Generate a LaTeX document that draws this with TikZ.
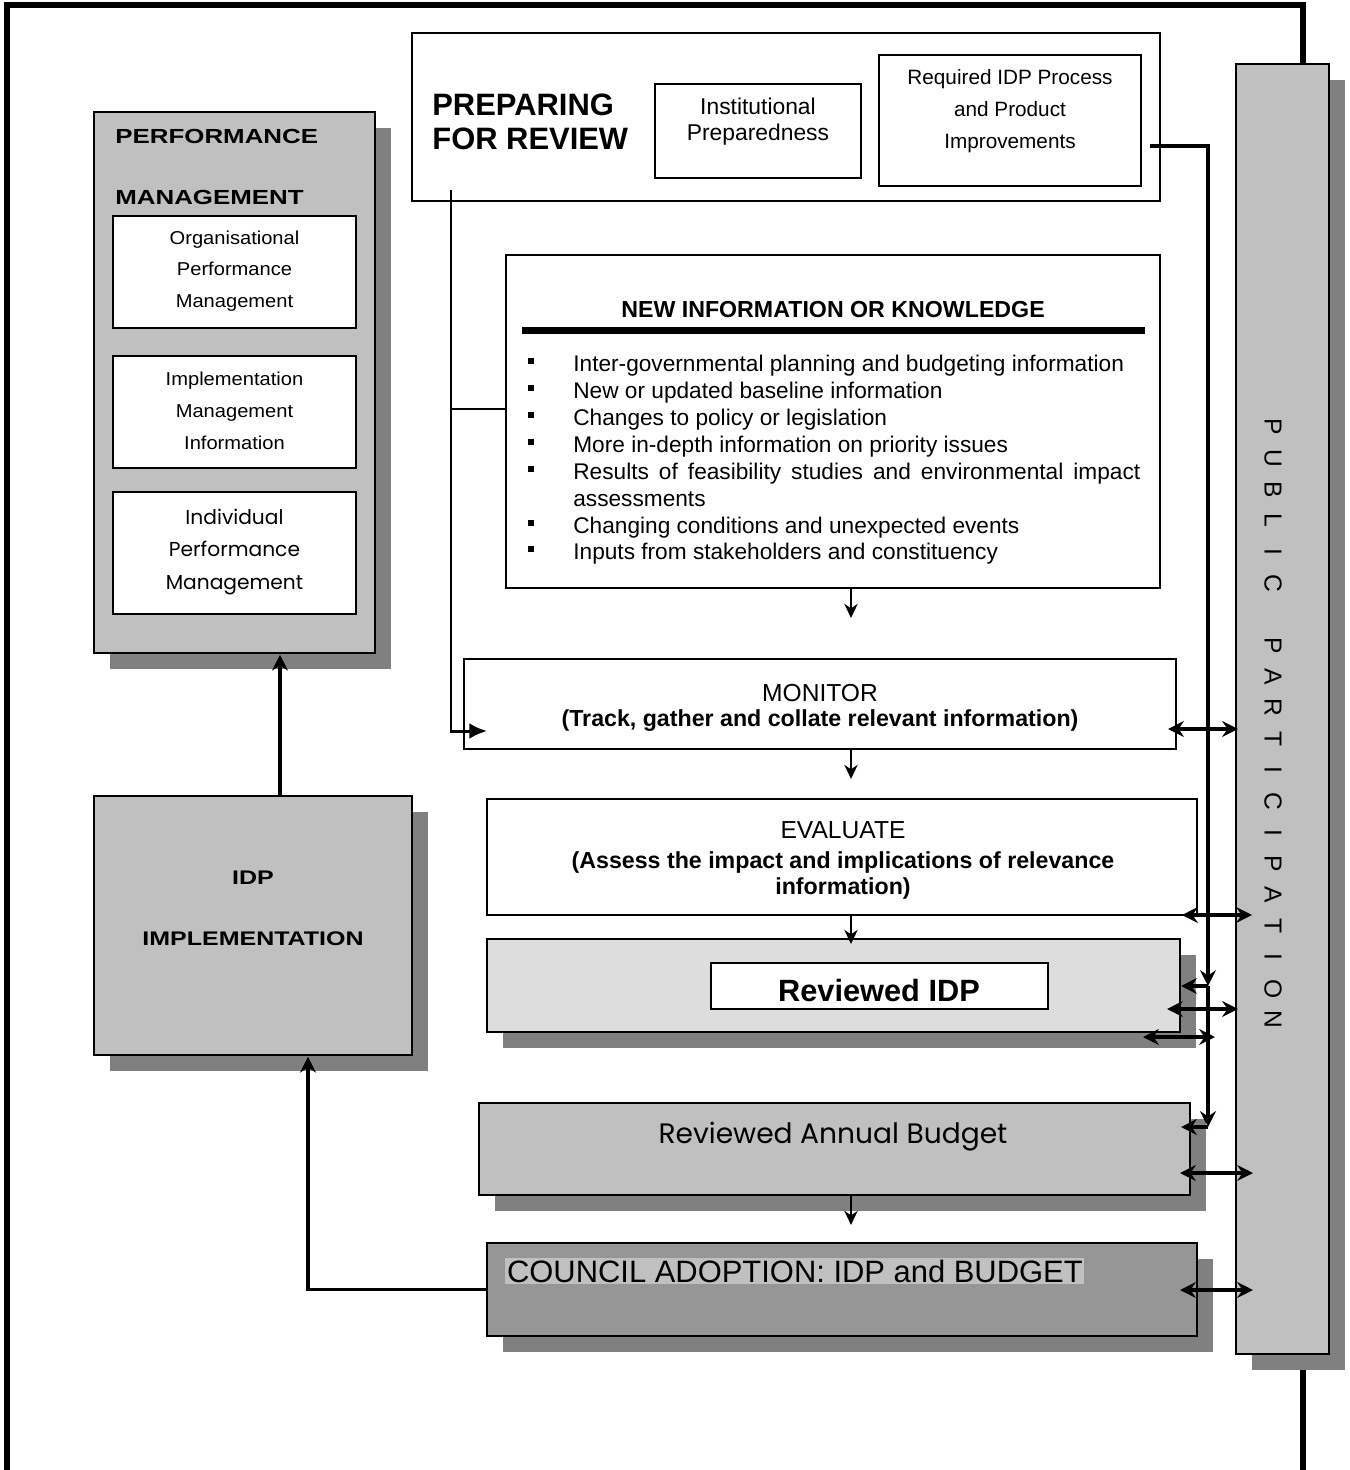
\documentclass[tikz,border=0pt]{standalone}
\usepackage{fontspec}
\setmainfont{Liberation Sans}
\newfontfamily\widef[FakeStretch=1.27]{Liberation Sans}
\newfontfamily\widereg[FakeStretch=1.08]{Liberation Sans}
\newfontfamily\comic{Poppins}
\usetikzlibrary{arrows.meta,shadows,calc}
\definecolor{boxgray}{HTML}{C0C0C0}
\definecolor{lightbox}{HTML}{DDDDDD}
\definecolor{darkbox}{HTML}{969696}
\definecolor{shadowgray}{HTML}{808080}
\tikzset{
  box/.style={draw=black, line width=1pt, inner sep=0pt, outer sep=0pt, anchor=north west},
  shad/.style={line width=1.3pt, drop shadow={shadow xshift=0.32cm, shadow yshift=-0.32cm, fill=shadowgray, opacity=1}},
  conn/.style={line width=2.2pt},
  thinconn/.style={line width=1.6pt},
  tipS/.tip={Stealth[length=9pt,width=9pt,inset=3pt]},
  tipT/.tip={Stealth[length=8pt,width=7.5pt,inset=2.5pt]},
  arr/.style={conn, -tipS},
  sarr/.style={thinconn, -tipT},
  darr/.style={conn, tipS-tipS},
  larr/.style={line width=1.7pt, -{Latex[length=10pt,width=9pt]}},
  txt/.style={inner sep=0pt, align=center},
}
\newcommand\boxat[6]{\node[box,#6,minimum width={(#4-#2)*0.02cm},minimum height={(#5-#3)*0.02cm}] (#1) at (#2,#3) {};}
\begin{document}
\begin{tikzpicture}[x=0.02cm,y=-0.02cm]
\useasboundingbox[fill=white] (0,0) rectangle (1349,1470);

% outer frame
\draw[line width=3.2pt] (7,1480) -- (7,5) -- (1303,5) -- (1303,80);
\draw[line width=3.2pt] (1303,1360) -- (1303,1480);

% Public participation
\boxat{pp}{1236}{64}{1329}{1354}{fill=boxgray,shad}
\foreach \l [count=\i from 0] in {P,U,B,L,I,C,{},P,A,R,T,I,C,I,P,A,T,I,O,N}
  \node[rotate=-90, inner sep=0pt, font=\fontsize{14}{16}\selectfont] at (1273,427+\i*31.2) {\l};

% Performance management
\boxat{pm}{94}{112}{375}{653}{fill=boxgray,shad}
\node[txt, anchor=west, font=\widef\bfseries\fontsize{11.6}{14}\selectfont] (pmt1) at (115,136) {PERFORMANCE};
\node[txt, anchor=west, font=\widef\bfseries\fontsize{11.6}{14}\selectfont] (pmt2) at (115,197) {MANAGEMENT};
\boxat{org}{113}{216}{356}{328}{fill=white}
\node[txt, font=\widereg\fontsize{10.6}{18.1}\selectfont] (orgt) at (234.5,271) {Organisational\\Performance\\Management};
\boxat{imi}{113}{356}{356}{468}{fill=white}
\node[txt, font=\widereg\fontsize{10.6}{18.1}\selectfont] (imit) at (234.5,411) {Implementation\\Management\\Information};
\boxat{ipm}{113}{492}{356}{614}{fill=white}
\node[txt, font=\comic\fontsize{11.5}{18.4}\selectfont] (ipmt) at (234.5,552) {Individual\\Performance\\Management};

% IDP implementation
\boxat{impl}{94}{796}{412}{1055}{fill=boxgray,shad}
\node[txt, font=\widef\bfseries\fontsize{11.2}{14}\selectfont] (implt1) at (253,878) {IDP};
\node[txt, font=\widef\bfseries\fontsize{11.2}{14}\selectfont] (implt2) at (253,939) {IMPLEMENTATION};

% Preparing for review
\boxat{prep}{412}{33}{1160}{201}{fill=white}
\node[txt, anchor=west, align=left, font=\bfseries\fontsize{17.6}{19.3}\selectfont] (prept) at (432,122) {PREPARING\\FOR REVIEW};
\boxat{inst}{655}{84}{861}{178}{fill=white}
\node[txt, font=\fontsize{13}{14.7}\selectfont] (instt) at (758,122) {Institutional\\Preparedness};
\boxat{req}{879}{55}{1141}{186}{fill=white}
\node[txt, font=\fontsize{11.8}{18.1}\selectfont] (reqt) at (1010,111) {Required IDP Process\\and Product\\Improvements};

% New information
\boxat{newinfo}{506}{255}{1160}{588}{fill=white}
\node[txt, font=\bfseries\fontsize{13.2}{16}\selectfont] (nit) at (833,310) {NEW INFORMATION OR KNOWLEDGE};
\fill (522,326.5) rectangle (1145,333.5);
\foreach \y/\t [count=\k] in {363/Inter-governmental planning and budgeting information,
  390/New or updated baseline information,
  417/Changes to policy or legislation,
  444/More in-depth information on priority issues,
  525/Changing conditions and unexpected events,
  551/Inputs from stakeholders and constituency}{
  \fill (528,\y-5) rectangle (534,\y+1);
  \node[inner sep=0pt, anchor=base west, font=\fontsize{12.9}{15.3}\selectfont] (li\k) at (573,\y+8) {\t};
}
\fill (528,466) rectangle (534,472);
\node[inner sep=0pt, anchor=base west, font=\fontsize{12.9}{15.3}\selectfont] (li7) at (573,479) {\makebox[11.34cm][s]{Results of feasibility studies and environmental impact}};
\node[inner sep=0pt, anchor=base west, font=\fontsize{12.9}{15.3}\selectfont] (li8) at (573,506) {assessments};

% Monitor
\boxat{monitor}{464}{659}{1176}{749}{fill=white}
\node[txt, font=\fontsize{14}{16}\selectfont] (mont1) at (820,693) {MONITOR};
\node[txt, font=\bfseries\fontsize{13.2}{16}\selectfont] (mont2) at (820,721) {(Track, gather and collate relevant information)};

% Evaluate
\boxat{eval}{487}{799}{1197}{915}{fill=white}
\node[txt, font=\fontsize{14}{16}\selectfont] (evt1) at (843,830) {EVALUATE};
\node[txt, font=\bfseries\fontsize{13.2}{15.3}\selectfont] (evt2) at (843,875.5) {(Assess the impact and implications of relevance\\information)};

% Reviewed IDP
\boxat{ridp}{487}{939}{1180}{1032}{fill=lightbox,shad}
\boxat{ridpin}{711}{963}{1048}{1009}{fill=white}
\node[txt, font=\bfseries\fontsize{17.5}{20}\selectfont] (ridpt) at (879,990) {Reviewed IDP};

% Reviewed annual budget
\boxat{rbud}{479}{1103}{1190}{1195}{fill=boxgray,shad}
\node[txt, font=\comic\fontsize{16}{18}\selectfont] (rbudt) at (833,1137) {Reviewed Annual Budget};

% Council adoption
\boxat{council}{487}{1243}{1197}{1336}{fill=darkbox,shad}
\node[inner sep=1pt, anchor=west, fill=boxgray, font=\fontsize{17.6}{20}\selectfont] (councilt) at (505,1271) {COUNCIL ADOPTION: IDP and BUDGET};

% ---------- connectors ----------
\coordinate (c280) at (280,0);
\coordinate (c308) at (308,0);
\coordinate (c851) at (851,0);
\draw[arr] (impl.north -| c280) -- ([yshift=-1pt]pm.south -| c280);
\draw[arr] (council.west) -| ([yshift=-1pt]impl.south -| c308);

\coordinate (ps) at (451,190);
\coordinate (pb) at (451,409);
\coordinate (pm1) at (451,731);
\coordinate (mt) at (487,731);
\draw[larr] (ps) -- (pm1) -- (mt);
\draw[line width=1.7pt] (pb) -- (newinfo.west |- pb);

\draw[sarr] (newinfo.south -| c851) -- ++(0,30);
\draw[sarr] (monitor.south -| c851) -- ++(0,30);
\draw[sarr] (eval.south -| c851) -- ++(0,29);
\draw[sarr] (rbud.south -| c851) -- ++(0,30);

\coordinate (r1) at (1150,146);
\coordinate (r2) at (1208,146);
\coordinate (r3) at (1208,986);
\coordinate (r4) at (1208,1127);
\draw[arr] (r1) -- (r2) -- (r3);
\draw[arr] (r3) -- (r4);
\draw[arr] (r3) -- ++(-27,0);
\draw[arr] (r4) -- ++(-27,0);

\coordinate (d1) at (1168,729);
\coordinate (d1b) at (1238,729);
\coordinate (d2) at (1182,915);
\coordinate (d2b) at (1252,915);
\coordinate (d3) at (1167,1009);
\coordinate (d3b) at (1238,1009);
\coordinate (d4) at (1143,1037);
\coordinate (d4b) at (1215,1037);
\coordinate (d5) at (1180,1173);
\coordinate (d5b) at (1253,1173);
\coordinate (d6) at (1180,1290);
\coordinate (d6b) at (1253,1290);
\draw[darr] (d1) -- (d1b);
\draw[darr] (d2) -- (d2b);
\draw[darr] (d3) -- (d3b);
\draw[darr] (d4) -- (d4b);
\draw[darr] (d5) -- (d5b);
\draw[darr] (d6) -- (d6b);
\end{tikzpicture}
\end{document}
